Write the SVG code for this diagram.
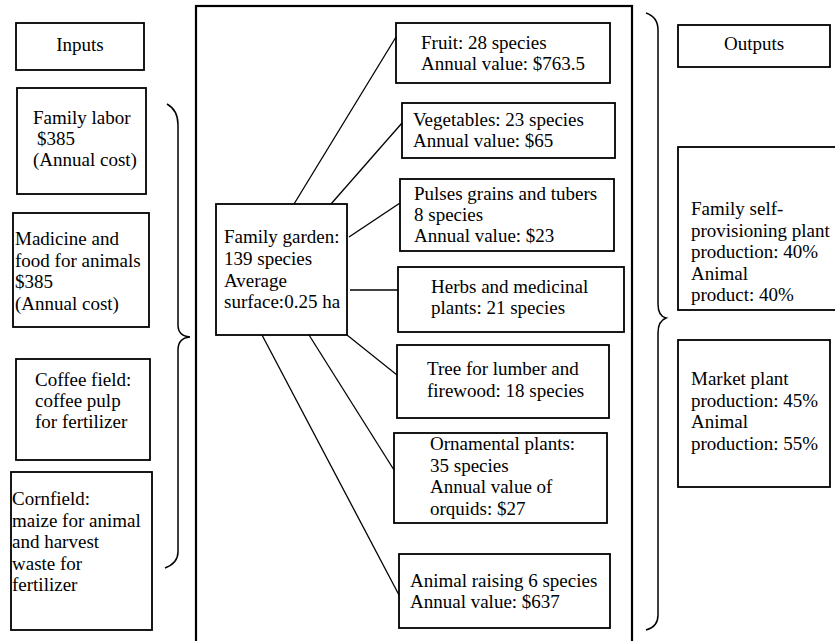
<svg xmlns="http://www.w3.org/2000/svg" width="835" height="641" viewBox="0 0 835 641">
<style>
rect{fill:#fff;stroke:#000;stroke-width:1.8}
.c line{stroke:#000;stroke-width:1.3}
.br{fill:none;stroke:#000;stroke-width:1.5}
</style>
<rect x="0" y="0" width="835" height="641" style="stroke:none"/>
<g font-family="Liberation Serif" font-size="19" fill="#000">
<g id="frame"><rect x="196" y="6" width="436" height="640" style="stroke-width:2.2"/></g>
<g id="inputs"><rect x="16" y="23" width="128" height="47"/><text x="80" y="51" text-anchor="middle">Inputs</text></g>
<g id="labor"><rect x="17" y="88" width="129" height="106"/><text x="33" y="124">Family labor</text><text x="37" y="145">$385</text><text x="33" y="166">(Annual cost)</text></g>
<g id="medicine"><rect x="13" y="213" width="136" height="114"/><text x="15" y="245">Madicine and</text><text x="15" y="267">food for animals</text><text x="15" y="288">$385</text><text x="15" y="310">(Annual cost)</text></g>
<g id="coffee"><rect x="16" y="359" width="134" height="101"/><text x="35" y="386">Coffee field:</text><text x="35" y="407">coffee pulp</text><text x="35" y="428">for fertilizer</text></g>
<g id="cornfield"><rect x="11" y="472" width="141" height="158"/><text x="12" y="505">Cornfield:</text><text x="12" y="527">maize for animal</text><text x="12" y="548">and harvest</text><text x="12" y="570">waste for</text><text x="12" y="591">fertilizer</text></g>
<g id="left-brace"><path class="br" d="M167,104 Q178,110 178,125 L178,325 Q178,336 190,337 Q178,338 178,350 L178,552 Q178,563 165,568"/></g>
<g id="garden"><rect x="216" y="204" width="131" height="131"/><text x="224" y="243">Family garden:</text><text x="224" y="265">139 species</text><text x="224" y="287">Average</text><text x="224" y="308">surface:0.25 ha</text></g>
<g id="fruit"><rect x="396" y="23" width="214" height="60"/><text x="421" y="49">Fruit: 28 species</text><text x="421" y="70">Annual value: $763.5</text></g>
<g id="vegetables"><rect x="402" y="103" width="213" height="55"/><text x="413" y="126">Vegetables: 23 species</text><text x="413" y="147">Annual value: $65</text></g>
<g id="pulses"><rect x="400" y="179" width="214" height="72"/><text x="414" y="200">Pulses grains and tubers</text><text x="414" y="221">8 species</text><text x="414" y="242">Annual value: $23</text></g>
<g id="herbs"><rect x="398" y="267" width="226" height="65"/><text x="431" y="293">Herbs and medicinal</text><text x="431" y="314">plants: 21 species</text></g>
<g id="tree"><rect x="397" y="345" width="212" height="73"/><text x="427" y="375">Tree for lumber and</text><text x="427" y="397">firewood: 18 species</text></g>
<g id="ornamental"><rect x="394" y="433" width="213" height="90"/><text x="430" y="450">Ornamental plants:</text><text x="430" y="472">35 species</text><text x="430" y="493">Annual value of</text><text x="430" y="515">orquids: $27</text></g>
<g id="animal"><rect x="399" y="554" width="211" height="74"/><text x="410" y="587">Animal raising 6 species</text><text x="410" y="608">Annual value: $637</text></g>
<g class="c" id="connectors">
<line x1="294" y1="204" x2="396" y2="37"/>
<line x1="331" y1="204" x2="402" y2="123"/>
<line x1="349" y1="237" x2="400" y2="203"/>
<line x1="350" y1="290" x2="398" y2="290"/>
<line x1="347" y1="335" x2="397" y2="375"/>
<line x1="309" y1="335" x2="394" y2="470"/>
<line x1="262" y1="335" x2="399" y2="595"/>
</g>
<g id="right-brace"><path class="br" d="M646,13 Q658,17 658,30 L658,304 Q658,316 666,318 Q658,321 658,333 L658,615 Q658,627 646,630"/></g>
<g id="outputs"><rect x="678" y="25" width="152" height="42"/><text x="754" y="50" text-anchor="middle">Outputs</text></g>
<g id="self"><rect x="678" y="147" width="162" height="163"/><text x="691" y="215">Family self-</text><text x="691" y="237">provisioning plant</text><text x="691" y="258">production: 40%</text><text x="691" y="280">Animal</text><text x="691" y="301">product: 40%</text></g>
<g id="market"><rect x="678" y="340" width="152" height="147"/><text x="691" y="385">Market plant</text><text x="691" y="407">production: 45%</text><text x="691" y="428">Animal</text><text x="691" y="450">production: 55%</text></g>
</g>
</svg>
